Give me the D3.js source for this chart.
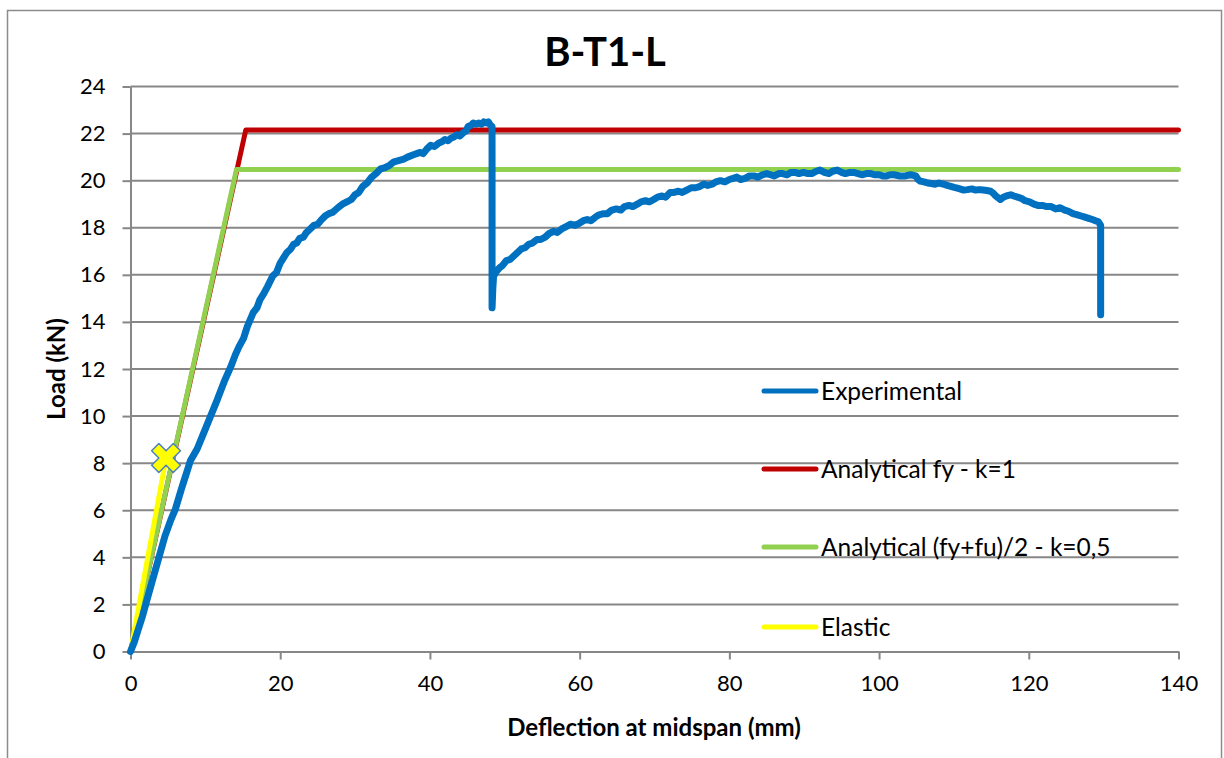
<!DOCTYPE html>
<html>
<head>
<meta charset="utf-8">
<script src="https://cdn.jsdelivr.net/npm/d3@7"></script>
<style>
  html, body { margin: 0; padding: 0; background: #fff; }
  svg text { font-family: Lato, "Open Sans", sans-serif; fill: #000; }
</style>
</head>
<body>
<svg id="chart" width="1224" height="758"></svg>
<script>
// Load–deflection response of beam B-T1-L
const xTicks = [0, 20, 40, 60, 80, 100, 120, 140];
const yTicks = [0, 2, 4, 6, 8, 10, 12, 14, 16, 18, 20, 22, 24];

// Experimental curve: [deflection (mm), load (kN)]
const experimental = [
  [0,0],[0.5,0.4],[1.0,0.9],[1.6,1.5],[2.2,2.2],[3.0,3.1],[3.8,4.0],[4.6,4.9],
  [5.4,5.6],[6.0,6.05],[6.8,6.9],[7.5,7.6],[8.0,8.1],[8.9,8.6],[9.8,9.3],[10.7,10.0],
  [11.6,10.7],[12.5,11.45],[13.4,12.1],[14.0,12.6],[14.5,12.95],[15.1,13.3],[15.6,13.8],
  [16.4,14.4],[16.9,14.6],[17.3,14.95],[17.8,15.2],[18.3,15.5],[19.0,15.95],[19.5,16.1],
  [20.0,16.5],[20.5,16.75],[20.9,16.95],[21.4,17.1],[21.8,17.3],[22.2,17.35],[22.6,17.55],
  [23.1,17.6],[23.5,17.8],[24.0,17.95],[24.5,18.1],[25.0,18.15],[25.4,18.3],[26.0,18.5],
  [26.5,18.6],[27.0,18.65],[27.7,18.85],[28.3,19.0],[28.9,19.1],[29.5,19.2],[30.0,19.4],
  [30.5,19.5],[31.0,19.75],[31.6,19.9],[32.2,20.15],[32.8,20.3],[33.4,20.5],[34.0,20.55],
  [34.6,20.65],[35.2,20.8],[35.8,20.85],[36.4,20.9],[37.0,21.0],[37.8,21.1],[38.7,21.2],
  [39.1,21.15],[39.6,21.35],[40.1,21.5],[40.6,21.45],[41.2,21.6],[41.6,21.65],[42.0,21.75],
  [42.4,21.7],[42.8,21.8],[43.2,21.85],[43.6,21.95],[44.0,21.9],[44.5,22.05],[44.8,22.1],
  [45.1,22.3],[45.5,22.35],[45.8,22.45],[46.2,22.4],[46.5,22.45],[46.9,22.4],[47.2,22.5],
  [47.5,22.45],[47.8,22.5],[48.1,22.35],[48.3,22.3],[48.3,14.6],
  [48.4,15.4],[48.5,15.94],[48.9,16.15],[49.3,16.3],[49.7,16.4],[50.2,16.6],[50.7,16.65],
  [51.2,16.8],[51.7,16.95],[52.2,17.1],[52.7,17.15],[53.2,17.3],[53.7,17.35],[54.3,17.5],
  [54.8,17.5],[55.4,17.6],[55.9,17.75],[56.5,17.85],[57.0,17.8],[57.6,17.95],[58.2,18.05],
  [58.8,18.15],[59.4,18.1],[60.0,18.2],[60.5,18.3],[61.0,18.35],[61.5,18.3],[62.1,18.45],
  [62.6,18.55],[63.2,18.6],[63.7,18.6],[64.3,18.75],[64.9,18.8],[65.5,18.75],[66.0,18.9],
  [66.6,18.95],[67.1,18.9],[67.7,19.0],[68.2,19.1],[68.8,19.15],[69.3,19.1],[69.9,19.2],
  [70.4,19.3],[71.0,19.35],[71.5,19.3],[72.1,19.5],[72.6,19.5],[73.2,19.55],[73.7,19.5],
  [74.3,19.6],[74.9,19.7],[75.5,19.7],[76.0,19.75],[76.6,19.85],[77.1,19.8],[77.7,19.85],
  [78.2,19.95],[78.8,20.0],[79.4,19.95],[80.0,20.05],[80.5,20.1],[81.0,20.15],[81.5,20.05],
  [82.1,20.1],[82.7,20.2],[83.3,20.2],[83.8,20.15],[84.4,20.25],[85.0,20.3],[85.5,20.25],
  [86.0,20.2],[86.6,20.3],[87.1,20.3],[87.7,20.25],[88.2,20.35],[88.8,20.35],[89.3,20.3],
  [89.9,20.35],[90.5,20.3],[91.0,20.3],[91.6,20.4],[92.1,20.45],[92.7,20.35],[93.3,20.3],
  [93.8,20.4],[94.4,20.45],[95.0,20.35],[95.5,20.3],[96.1,20.35],[96.6,20.35],[97.2,20.3],
  [97.7,20.25],[98.3,20.3],[98.9,20.3],[99.4,20.25],[100.0,20.25],[100.5,20.2],[101.0,20.2],
  [101.5,20.25],[102.0,20.25],[102.8,20.2],[103.5,20.2],[104.2,20.25],[104.9,20.2],
  [105.2,20.05],[105.5,19.98],[106.0,19.95],[106.5,19.9],[107.0,19.88],[107.5,19.85],
  [108.0,19.9],[108.6,19.85],[109.1,19.8],[109.7,19.75],[110.2,19.7],[110.8,19.65],
  [111.3,19.6],[111.8,19.62],[112.4,19.65],[112.9,19.6],[113.4,19.62],[113.9,19.6],
  [114.4,19.58],[114.9,19.55],[115.3,19.45],[115.6,19.35],[116.2,19.2],[116.6,19.3],
  [117.0,19.35],[117.6,19.4],[118.0,19.35],[118.5,19.3],[119.0,19.25],[119.5,19.15],
  [120.1,19.1],[120.7,19.0],[121.2,18.95],[121.8,18.95],[122.4,18.9],[123.0,18.9],
  [123.6,18.8],[124.2,18.85],[124.8,18.75],[125.3,18.7],[125.9,18.6],[126.5,18.55],
  [127.0,18.5],[127.5,18.45],[128.0,18.4],[128.5,18.35],[128.9,18.3],[129.3,18.25],
  [129.6,18.1],[129.6,14.3]
];
// Analytical bilinear models and elastic branch
const analyticalFy = [[0,0],[15.4,22.15],[140,22.15]];
const analyticalMean = [[0,0],[14.15,20.47],[140,20.47]];
const elastic = [[0,0],[4.75,8.22]];

const series = [
  { name: "Experimental", data: experimental, color: "#0070C0", width: 7 },
  { name: "Analytical fy - k=1", data: analyticalFy, color: "#C00000", width: 5 },
  { name: "Analytical (fy+fu)/2 - k=0,5", data: analyticalMean, color: "#92D050", width: 5 },
  { name: "Elastic", data: elastic, color: "#FFFF00", width: 5 }
];

const svg = d3.select("#chart");
const grid = "#878787";

// outer chart frame
svg.append("rect")
  .attr("x", 7.5).attr("y", 10.5).attr("width", 1214).attr("height", 800)
  .attr("fill", "none").attr("stroke", "#8c8c8c").attr("stroke-width", 1.5);

const x = d3.scaleLinear().domain([0, 140]).range([130.5, 1178.5]);
const y = d3.scaleLinear().domain([0, 24]).range([651.5, 86.5]);

// horizontal gridlines
svg.append("g").selectAll("line").data(yTicks.filter(d => d > 0)).join("line")
  .attr("x1", x(0)).attr("x2", x(140))
  .attr("y1", d => y(d)).attr("y2", d => y(d))
  .attr("stroke", grid).attr("stroke-width", 2);

// y axis
const yAxis = svg.append("g").attr("transform", `translate(${x(0)},0)`)
  .call(d3.axisLeft(y).tickValues(yTicks).tickSize(8).tickPadding(17).tickSizeOuter(0));
// x axis
const xAxis = svg.append("g").attr("transform", `translate(0,${y(0)})`)
  .call(d3.axisBottom(x).tickValues(xTicks).tickSize(8).tickPadding(16).tickSizeOuter(0));

[yAxis, xAxis].forEach(ax => {
  ax.select(".domain").attr("stroke", grid).attr("stroke-width", 2);
  ax.selectAll(".tick line").attr("stroke", grid).attr("stroke-width", 2);
  ax.selectAll(".tick text").attr("font-size", 22).attr("font-family", "Lato, sans-serif").attr("fill", "#000");
});

const line = d3.line().x(d => x(d[0])).y(d => y(d[1]));

// draw order: red, green, yellow, then blue on top
const plotG = svg.append("g");
[series[1], series[2], series[3], series[0]].forEach(s => {
  plotG.append("path")
    .datum(s.data)
    .attr("d", line)
    .attr("fill", "none")
    .attr("stroke", s.color)
    .attr("stroke-width", s.width)
    .attr("stroke-linejoin", "round")
    .attr("stroke-linecap", "round");
});

// cross marker at the end of the elastic branch
const last = elastic[elastic.length - 1];
const cross = d3.symbol().type(d3.symbolCross).size(520);
plotG.append("path")
  .attr("d", cross())
  .attr("transform", `translate(${x(last[0])},${y(last[1])}) rotate(45)`)
  .attr("fill", "#FFFF00")
  .attr("stroke", "#4F81BD")
  .attr("stroke-width", 1.5)
  .attr("stroke-linejoin", "round");

// legend
const legendY = [391, 469, 547, 627];
const lg = svg.append("g");
series.forEach((s, i) => {
  lg.append("line")
    .attr("x1", 764).attr("x2", 816)
    .attr("y1", legendY[i]).attr("y2", legendY[i])
    .attr("stroke", s.color).attr("stroke-width", 5).attr("stroke-linecap", "round");
  lg.append("text")
    .attr("x", 821).attr("y", legendY[i]).attr("dy", "0.35em")
    .attr("font-size", 24.5)
    .text(s.name);
});

// titles
svg.append("text").attr("x", 605).attr("y", 66).attr("text-anchor", "middle")
  .attr("font-size", 40).attr("font-weight", "bold").text("B-T1-L");
svg.append("text").attr("x", 654).attr("y", 736).attr("text-anchor", "middle")
  .attr("font-size", 24).attr("font-weight", "bold").text("Deflection at midspan (mm)");
svg.append("text")
  .attr("transform", `translate(65,369) rotate(-90)`)
  .attr("text-anchor", "middle")
  .attr("font-size", 24).attr("font-weight", "bold").text("Load (kN)");
</script>
</body>
</html>
